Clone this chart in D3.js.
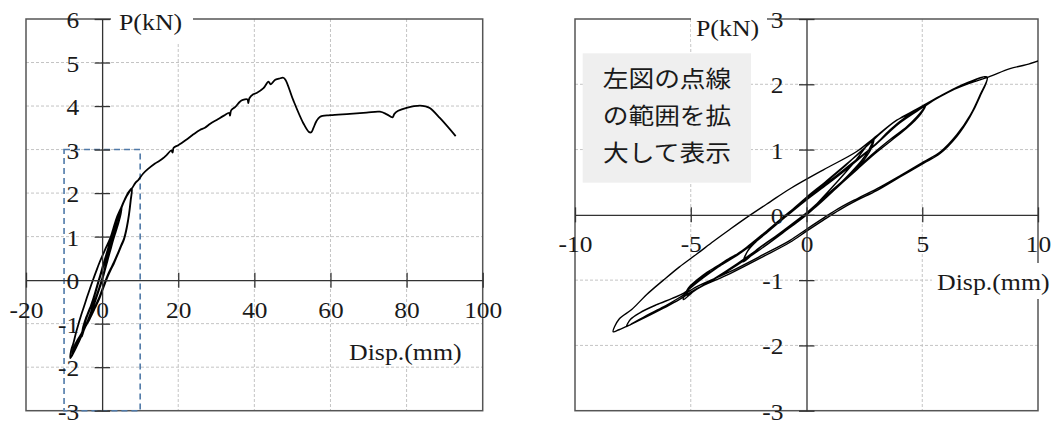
<!DOCTYPE html>
<html><head><meta charset="utf-8">
<script src="https://cdn.jsdelivr.net/npm/d3@7"></script>
<style>html,body{margin:0;padding:0;background:#fff;}svg{display:block;}</style>
</head><body>
<svg id="c" width="1059" height="424"></svg>
<script>
// ---------- data ----------
const leftXTicks = [-20, 0, 20, 40, 60, 80, 100];
const leftYTicks = [-3, -2, -1, 0, 1, 2, 3, 4, 5, 6];
const rightXTicks = [-10, -5, 0, 5, 10];
const rightYTicks = [-3, -2, -1, 0, 1, 2, 3];
const xTitle = "Disp.(mm)";
const yTitle = "P(kN)";
const note = ["左図の点線", "の範囲を拡", "大して表示"];
const zoomBox = {x: [-10, 10], p: [-3, 3]};

// hysteresis cycles about ±3 mm
const cycle3a = [[0,0],[1,0.38],[2,0.78],[2.9,1.17],
  [2.8,1.02],[2.5,0.85],[2.0,0.65],[1.2,0.38],[0.4,0.12],[-0.4,-0.1],[-1.2,-0.3],[-2.0,-0.5],[-2.73,-0.72],
  [-2.55,-0.56],[-2.2,-0.42],[-1.5,-0.2],[-0.7,0.05],[0,0.27],[0.8,0.5],[1.6,0.74],[2.3,0.95],[2.85,1.14]];
const cycle3b = [[2.7,1.0],[2.4,0.84],[1.9,0.64],[1.1,0.36],[0.3,0.1],[-0.5,-0.12],[-1.3,-0.32],[-2.1,-0.52],[-2.7,-0.7],
  [-2.5,-0.53],[-2.1,-0.38],[-1.4,-0.16],[-0.6,0.08],[0.1,0.29],[0.9,0.52],[1.7,0.76],[2.3,0.96],[2.75,1.1]];
// cycles about ±5 mm
const cycle5a = [[3.2,1.25],[3.9,1.45],[4.76,1.6],[5.19,1.70],
  [5.0,1.6],[4.76,1.5],[4.33,1.35],[3.6,1.15],[2.88,0.94],[2.2,0.72],[1.5,0.5],[0.7,0.25],[0,0.03],[-1.0,-0.24],[-2.0,-0.5],[-3.0,-0.75],[-4.0,-0.98],[-4.8,-1.15],[-5.32,-1.30],
  [-5.1,-1.12],[-4.74,-1.0],[-4.3,-0.88],[-3.88,-0.79],[-3.3,-0.66],[-2.73,-0.55],[-2.0,-0.35],[-1.2,-0.1],[-0.4,0.13],[0.5,0.38],[1.4,0.62],[2.2,0.85],[2.9,1.05],[3.6,1.3],[4.3,1.5],[4.9,1.63],[5.15,1.68]];
const cycle5b = [[4.95,1.55],[4.7,1.45],[4.3,1.32],[3.6,1.12],[2.9,0.92],[2.2,0.7],[1.5,0.48],[0.7,0.22],[0,0],[-1.0,-0.27],[-2.0,-0.53],[-3.0,-0.77],[-4.0,-0.99],[-4.7,-1.13],[-5.17,-1.23],
  [-5.0,-1.1],[-4.6,-0.98],[-4.1,-0.86],[-3.6,-0.75],[-3.0,-0.62],[-2.4,-0.47],[-1.7,-0.27],[-0.9,-0.03],[0,0.23],[0.9,0.47],[1.8,0.72],[2.6,0.96],[3.4,1.22],[4.2,1.46],[4.8,1.6],[5.2,1.69]];
// cycles about ±8 mm
const cycle8a = [[5.77,1.81],[6.92,2.01],[7.8,2.11],
  [7.49,1.81],[7.06,1.5],[6.49,1.2],[5.77,0.94],[5.05,0.79],[4.04,0.58],[3.03,0.37],[2.17,0.22],[1.45,0.08],[0.73,-0.08],[0,-0.25],[-0.71,-0.42],[-1.87,-0.64],[-3.3,-0.9],[-4.74,-1.13],[-5.5,-1.3],[-6.18,-1.43],[-6.9,-1.56],[-7.6,-1.68],[-8.1,-1.76],[-8.35,-1.79],
  [-8.1,-1.6],[-7.55,-1.45],[-6.9,-1.22],[-6.18,-1.0],[-5.5,-0.8],[-4.74,-0.6],[-4.0,-0.4],[-3.3,-0.22],[-2.5,-0.02],[-1.57,0.2],[-0.71,0.4],[0.73,0.69],[2.17,0.97],[2.89,1.17],[3.9,1.45],[4.76,1.62],[5.77,1.82],[6.92,2.02],[7.8,2.11]];
const cycle8b = [[7.5,1.84],[7.08,1.53],[6.5,1.23],[5.8,0.97],[5.05,0.81],[4.05,0.6],[3.05,0.4],[2.2,0.25],[1.45,0.11],[0.73,-0.05],[0,-0.22],[-0.71,-0.39],[-1.87,-0.61],[-3.3,-0.87],[-4.74,-1.1],[-5.5,-1.27],[-6.18,-1.41],[-6.9,-1.54],[-7.5,-1.66],[-7.77,-1.71],
  [-7.6,-1.6],[-7.2,-1.5],[-6.5,-1.38],[-5.8,-1.28],[-5.3,-1.2],[-4.6,-1.0],[-3.9,-0.82],[-3.2,-0.65],[-2.6,-0.5],[-1.8,-0.27],[-1.0,-0.03],[0,0.25],[1.0,0.52],[2.0,0.8],[3.0,1.08],[4.0,1.4],[5.0,1.64],[6.0,1.86],[7.0,2.01],[7.85,2.11]];
// monotonic envelope after the cycles
const envelope = [[8.79,2.24],[9.5,2.3],[10.8,2.45],[12,2.55],[13.9,2.68],[15,2.74],[16,2.8],[17,2.88],[18.2,2.98],[18.5,2.93],[18.8,3.04],
  [20,3.1],[22,3.22],[24,3.35],[25.7,3.45],[27,3.5],[28.5,3.6],[30.1,3.68],[32,3.78],[33.4,3.84],[33.6,3.78],[33.9,3.9],[35,3.98],
  [36.2,4.1],[37,4.14],[38.2,4.15],[38.4,4.07],[38.7,4.18],[39.7,4.27],[40.6,4.3],[42.4,4.41],[43.7,4.56],[44.3,4.5],[45.4,4.6],
  [46.5,4.63],[47.6,4.65],[48.2,4.6],[50.2,4.14],[52.9,3.6],[54.4,3.4],[55,3.4],[55.5,3.49],[56.3,3.65],[57.2,3.75],[59.9,3.79],
  [65.1,3.82],[69.5,3.85],[73,3.87],[74.8,3.81],[76.3,3.74],[76.8,3.82],[77.8,3.89],[80,3.96],[83.5,4.01],[85,3.99],[86.2,3.95],[88.8,3.72],[92.9,3.31]];

// ---------- drawing ----------
const svg = d3.select("#c");
const SERIF = "'Liberation Serif','Times New Roman',serif";
const TICK_FS = 22.5, TICK_SX = 1.13, TITLE_FS = 23.5, TITLE_SX = 1.1;
const allData = [].concat(cycle3a, cycle3b, cycle5a, cycle5b, cycle8a, cycle8b, envelope);

function stretchText(g, x, y, str, anchor, size, family, sx) {
  return g.append("text")
    .attr("transform", `translate(${x},${y}) scale(${sx},1)`)
    .attr("text-anchor", anchor)
    .style("font-family", family).style("font-size", size + "px")
    .attr("fill", "#1a1a1a").text(str);
}

function panel(cfg) {
  const g = svg.append("g");
  const x = d3.scaleLinear().domain(cfg.xd).range([cfg.x0, cfg.x1]);
  const y = d3.scaleLinear().domain(cfg.yd).range([cfg.y1, cfg.y0]);
  const id = "clip" + cfg.name;
  svg.append("clipPath").attr("id", id).append("rect")
    .attr("x", cfg.x0).attr("y", cfg.y0).attr("width", cfg.x1 - cfg.x0).attr("height", cfg.y1 - cfg.y0);

  // grid
  const gridStyle = s => s.attr("stroke", "#c4c4c4").attr("stroke-width", 1).attr("stroke-dasharray", "3,2");
  g.append("g").selectAll("line").data(cfg.xt.filter(v => v !== cfg.xd[0] && v !== cfg.xd[1] && v !== 0)).join("line")
    .attr("x1", d => x(d)).attr("x2", d => x(d)).attr("y1", cfg.y0).attr("y2", cfg.y1).call(gridStyle);
  g.append("g").selectAll("line").data(cfg.yt.filter(v => v !== cfg.yd[0] && v !== cfg.yd[1] && v !== 0)).join("line")
    .attr("y1", d => y(d)).attr("y2", d => y(d)).attr("x1", cfg.x0).attr("x2", cfg.x1).call(gridStyle);

  // border
  g.append("rect").attr("x", cfg.x0).attr("y", cfg.y0).attr("width", cfg.x1 - cfg.x0).attr("height", cfg.y1 - cfg.y0)
    .attr("fill", "none").attr("stroke", "#555").attr("stroke-width", 1.5);

  // dashed zoom rectangle
  if (cfg.box) {
    g.append("rect").attr("x", x(zoomBox.x[0])).attr("y", y(zoomBox.p[1]))
      .attr("width", x(zoomBox.x[1]) - x(zoomBox.x[0])).attr("height", y(zoomBox.p[0]) - y(zoomBox.p[1]))
      .attr("fill", "none").attr("stroke", "#4f79a8").attr("stroke-width", 1.6).attr("stroke-dasharray", "6,4");
  }

  // axes through origin
  const ax = g.append("g").attr("transform", `translate(0,${y(0)})`)
    .call(d3.axisBottom(x).tickValues(cfg.xt).tickSizeOuter(0).tickFormat(d => String(d)));
  ax.select(".domain").attr("stroke", "#333").attr("stroke-width", 1.3);
  ax.selectAll(".tick line").attr("y1", -7.5).attr("y2", 7.5).attr("stroke", "#333").attr("stroke-width", 1.3);
  ax.selectAll(".tick text").attr("y", null).attr("dy", null)
    .attr("transform", `translate(0,37.5) scale(${TICK_SX},1)`)
    .style("font-family", SERIF).style("font-size", TICK_FS + "px").attr("fill", "#1a1a1a");

  const ay = g.append("g").attr("transform", `translate(${x(0)},0)`)
    .call(d3.axisLeft(y).tickValues(cfg.yt).tickSizeOuter(0).tickFormat(d => String(d)));
  ay.select(".domain").attr("stroke", "#333").attr("stroke-width", 1.3);
  ay.selectAll(".tick line").attr("x1", -7.5).attr("x2", 8).attr("stroke", "#333").attr("stroke-width", 1.3);
  ay.selectAll(".tick text").attr("x", null).attr("dy", null)
    .attr("transform", `translate(-23,8.5) scale(${TICK_SX},1)`)
    .style("font-family", SERIF).style("font-size", TICK_FS + "px").attr("fill", "#1a1a1a");

  // curve
  const line = d3.line().x(d => x(d[0])).y(d => y(d[1])).curve(d3.curveCatmullRom.alpha(0.5));
  g.append("path").datum(allData).attr("d", line).attr("clip-path", `url(#${id})`)
    .attr("fill", "none").attr("stroke", "#000").attr("stroke-width", cfg.lw).attr("stroke-linejoin", "round");

  // titles with white backgrounds
  const t = cfg.ytitle;
  g.append("rect").attr("x", t.bx).attr("y", t.by).attr("width", t.bw).attr("height", t.bh).attr("fill", "#fff");
  stretchText(g, t.x, t.y, yTitle, "start", TITLE_FS, SERIF, TITLE_SX);
  const u = cfg.xtitle;
  g.append("rect").attr("x", u.bx).attr("y", u.by).attr("width", u.bw).attr("height", u.bh).attr("fill", "#fff");
  stretchText(g, u.x, u.y, xTitle, "start", TITLE_FS, SERIF, TITLE_SX);
  ax.raise(); ay.raise();
  return {g, x, y};
}

panel({name: "L", xd: [-20, 100], yd: [-3, 6], x0: 26, x1: 482.7, y0: 19, y1: 410.7,
  xt: leftXTicks, yt: leftYTicks, lw: 1.8, box: true,
  ytitle: {x: 119, y: 30, bx: 111, by: 4, bw: 82, bh: 39},
  xtitle: {x: 349, y: 360, bx: 345, by: 326, bw: 125, bh: 40}});
panel({name: "R", xd: [-10, 10], yd: [-3, 3], x0: 575, x1: 1038, y0: 19, y1: 410.7,
  xt: rightXTicks, yt: rightYTicks, lw: 1.4, box: false,
  ytitle: {x: 696, y: 36, bx: 691, by: 4, bw: 76, bh: 39},
  xtitle: {x: 937, y: 290, bx: 932, by: 263, bw: 127, bh: 36}});

// annotation box
const nb = svg.append("g");
nb.append("rect").attr("x", 582.7).attr("y", 53.3).attr("width", 168.3).attr("height", 129.4).attr("fill", "#efefef");
note.forEach((s, i) => {
  stretchText(nb, 667, 86.5 + i * 37, s, "middle", 23, "'Noto Sans CJK JP','Noto Sans CJK SC',sans-serif", 1.12);
});
</script>
</body></html>
